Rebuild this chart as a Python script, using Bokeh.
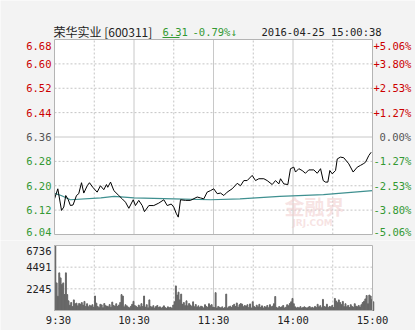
from bokeh.plotting import figure
from bokeh.models import Range1d, ColumnDataSource
from bokeh.core.properties import value
from bokeh.layouts import column
from bokeh.embed import file_html
from bokeh.resources import INLINE

# ---------------- data ----------------
title_name = "荣华实业 [600311]"
last_price = "6.31"
last_change = "-0.79%↓"
stamp = "2016-04-25 15:00:38"
prev_close = 6.36

price_ticks = [6.68, 6.60, 6.52, 6.44, 6.36, 6.28, 6.20, 6.12, 6.04]
pct_labels = ["+5.06%", "+3.80%", "+2.53%", "+1.27%", "0.00%",
              "-1.27%", "-2.53%", "-3.80%", "-5.06%"]
time_ticks = [0, 60, 120, 180, 240]
time_labels = ["9:30", "10:30", "11:30", "14:00", "15:00"]
vol_ticks = [6736, 4491, 2245]
vgrid_dashed = [30, 90, 150, 210]
vgrid_solid = [60, 120, 180]

price_min = [0, 2.5, 5.3, 7, 8.5, 10.3, 12, 14, 16.6, 18.3, 20.4, 22.1, 24.7, 26.4,
             28.9, 32.2, 34.7, 37.2, 39.2, 40.2, 42.3, 44.8, 48.5, 51.1, 53.6, 56.1,
             59.4, 61.1, 63.6, 66.2, 67.9, 71.2, 74.9, 78.7, 82.5, 85.1, 88.1, 90,
             91.8, 93.4, 95.1, 98.9, 102.6, 107.7, 110.2, 112.7, 115.2, 117.7, 120.2,
             122.8, 125.3, 127.8, 130.3, 134.1, 137.9, 140.4, 142.9, 145.4, 149.2,
             151.7, 154.2, 158, 160.5, 164.3, 166.8, 169.3, 170.6, 173.1, 176.1,
             178.1, 180.6, 181.9, 184.4, 186.9, 189.4, 191.9, 195.7, 198.3, 200.8,
             202.8, 204.5, 206.3, 207.8, 209.6, 212.1, 213.4, 215.8, 218.3, 222.1,
             225.4, 228.5, 231, 233, 234.7, 237.2, 239]
price_val = [6.157, 6.19, 6.119, 6.13, 6.168, 6.155, 6.135, 6.137, 6.168, 6.174, 6.21,
             6.176, 6.20, 6.21, 6.195, 6.179, 6.20, 6.187, 6.204, 6.195, 6.212, 6.184,
             6.168, 6.157, 6.146, 6.126, 6.154, 6.135, 6.152, 6.135, 6.115, 6.135,
             6.135, 6.143, 6.154, 6.135, 6.14, 6.13, 6.11, 6.097, 6.154, 6.152, 6.152,
             6.163, 6.16, 6.157, 6.179, 6.184, 6.19, 6.174, 6.176, 6.168, 6.179, 6.19,
             6.208, 6.20, 6.217, 6.217, 6.234, 6.217, 6.223, 6.223, 6.217, 6.204,
             6.217, 6.206, 6.223, 6.206, 6.204, 6.256, 6.261, 6.245, 6.256, 6.25,
             6.241, 6.252, 6.252, 6.241, 6.256, 6.217, 6.212, 6.212, 6.25, 6.239,
             6.25, 6.288, 6.294, 6.292, 6.272, 6.245, 6.261, 6.267, 6.272, 6.277,
             6.299, 6.31]

avg_min = [0, 5, 12, 35, 45, 60, 90, 118, 140, 170, 203, 240]
avg_val = [6.175, 6.168, 6.154, 6.16, 6.165, 6.16, 6.157, 6.154, 6.157, 6.165, 6.171, 6.184]

volume = [
    6736, 2860, 1480, 3900, 3380, 2700, 2860, 1650, 3900, 1650, 1000, 550, 830, 400, 1100, 700, 760, 480, 730, 650,
    820, 560, 940, 420, 700, 380, 550, 470, 600, 350, 1500, 760, 420, 300, 640, 580, 290, 720, 500, 450,
    380, 610, 340, 870, 520, 460, 700, 420, 560, 830, 1650, 1500, 380, 600, 480, 350, 270, 430, 640, 950,
    520, 430, 300, 560, 380, 710, 420, 1500, 350, 600, 280, 1100, 420, 330, 500, 260, 410, 520, 300, 380,
    250, 340, 480, 300, 220, 380, 290, 330, 260, 560, 900, 2550, 1600, 1900, 1100, 1700, 640, 820, 500, 1000,
    480, 720, 560, 420, 900, 380, 620, 350, 480, 300, 450, 380, 260, 600, 420, 330, 700, 500, 610, 350,
    300, 1850, 260, 420, 330, 280, 380, 210, 320, 1700, 260, 380, 450, 300, 520, 640, 410, 780, 350, 600,
    720, 650, 380, 520, 460, 600, 300, 680, 260, 900, 420, 300, 550, 380, 640, 320, 480, 260, 410, 350,
    520, 280, 600, 380, 450, 700, 1450, 320, 260, 410, 300, 380, 520, 260, 340, 600, 480, 720, 900, 1250,
    700, 380, 260, 330, 280, 400, 250, 320, 380, 300, 260, 350, 410, 280, 330, 260, 420, 300, 640, 380,
    500, 280, 1150, 420, 360, 650, 300, 420, 380, 520, 300, 1250, 980, 800, 1100, 820, 600, 940, 400, 700,
    380, 520, 300, 600, 420, 340, 700, 450, 380, 520, 360, 600, 820, 960, 1200, 1550, 700, 1600, 1500, 1150,
    900]

# ---------------- layout constants (pixels) ----------------
W = 415
BG = "#f3f3f3"
RED = "#cc0000"
GREEN = "#339933"
GRAY = "#555555"
GRID = "#c4c4c4"
SOLID = "#c8c8c8"
FRAME = "#b4b4b4"
MONO = "DejaVu Sans Mono"
CJK = "Noto Sans CJK SC"
FS = "10.5px"
PLOT_L, PLOT_R = 54, 372           # plot box in page pixels
P_TOP, P_BOT, P_H = 39, 234, 240   # price box within first figure
V_TOP, V_BOT, V_H = 5, 70, 90      # volume box within second figure

T0, T1 = time_ticks[0], time_ticks[-1]
kx = (PLOT_R - PLOT_L) / (T1 - T0)
x_range_all = (T0 - PLOT_L / kx, T1 + (W - PLOT_R) / kx)
vol_minutes = [T0 + i + 0.6 for i in range(len(volume))]


def make_fig(height, top_px, bot_px, lo, hi):
    ky = (bot_px - top_px) / (hi - lo)
    yr = Range1d(lo - (height - bot_px) / ky, hi + top_px / ky)
    f = figure(width=W, height=height, output_backend="svg", toolbar_location=None,
               x_range=Range1d(*x_range_all), y_range=yr,
               min_border=0, min_border_left=0, min_border_right=0,
               min_border_top=0, min_border_bottom=0)
    f.axis.visible = False
    f.grid.visible = False
    f.outline_line_color = None
    f.background_fill_color = BG
    f.border_fill_color = BG
    # white plotting box
    f.quad(left=[T0], right=[T1], bottom=[lo], top=[hi], fill_color="white", line_color=None)
    # vertical grid
    f.segment(x0=vgrid_dashed, x1=vgrid_dashed, y0=[lo] * len(vgrid_dashed),
              y1=[hi] * len(vgrid_dashed), line_color=GRID, line_dash="2 2", line_width=1)
    f.segment(x0=vgrid_solid, x1=vgrid_solid, y0=[lo] * len(vgrid_solid),
              y1=[hi] * len(vgrid_solid), line_color=SOLID, line_width=1)
    return f, ky


def frame_box(f, lo, hi):
    f.quad(left=[T0], right=[T1], bottom=[lo], top=[hi], fill_color=None,
           line_color=FRAME, line_width=1)


# ---------------- price panel ----------------
plo, phi = price_ticks[-1], price_ticks[0]
p, pky = make_fig(P_H, P_TOP, P_BOT, plo, phi)

inner = price_ticks[1:-1]
dashed_h = [t for t in inner if t != prev_close]
p.segment(x0=[T0] * len(dashed_h), x1=[T1] * len(dashed_h), y0=dashed_h, y1=dashed_h,
          line_color=GRID, line_dash="2 2", line_width=1)
p.segment(x0=[T0], x1=[T1], y0=[prev_close], y1=[prev_close], line_color=SOLID, line_width=1)

# watermark
p.text(x=[T0 + (284 - PLOT_L) / kx], y=[6.085], text=["金融界"], text_font=value(CJK),
       text_font_size="20px", text_font_style="bold", text_color="#f0cccc",
       text_alpha=0.55, text_baseline="bottom")
p.text(x=[T0 + (292 - PLOT_L) / kx], y=[6.062], text=["JRJ.COM"], text_font=value("DejaVu Sans"),
       text_font_size="9px", text_font_style="bold", text_color="#f0cccc",
       text_alpha=0.55, text_baseline="bottom")

p.line(avg_min, avg_val, line_color="#3f9090", line_width=1.2)
p.line(price_min, price_val, line_color="black", line_width=1)
frame_box(p, plo, phi)

cols = [RED if t > prev_close + 1e-9 else (GREEN if t < prev_close - 1e-9 else GRAY)
        for t in price_ticks]
yoff = [6 if i == 0 else (-3 if i == len(price_ticks) - 1 else 0)
        for i in range(len(price_ticks))]
left_src = ColumnDataSource(dict(x=[T0] * len(price_ticks), y=price_ticks,
                                 text=["%.2f" % t for t in price_ticks], c=cols, yo=yoff))
p.text(x="x", y="y", text="text", text_color="c", y_offset="yo", x_offset=-3,
       source=left_src, text_align="right", text_baseline="middle",
       text_font=value(MONO), text_font_size=FS)
right_src = ColumnDataSource(dict(x=[T1] * len(price_ticks), y=price_ticks, text=pct_labels,
                                  c=cols, yo=yoff,
                                  xo=[1 if s[0] in "+-" else 7 for s in pct_labels]))
p.text(x="x", y="y", text="text", text_color="c", y_offset="yo", x_offset="xo",
       source=right_src, text_align="left", text_baseline="middle",
       text_font=value(MONO), text_font_size=FS)

# header line
hdr_x = [T0 + (xp - PLOT_L) / kx for xp in (53, 162, 192, 261)]
p.text(x=[hdr_x[0]], y=[phi], text=[title_name], y_offset=-8, text_baseline="middle",
       text_font=value(CJK), text_font_size="12px", text_color="#222222")
p.text(x=hdr_x[1:], y=[phi] * 3, text=[last_price, last_change, stamp], y_offset=-8,
       text_baseline="middle", text_font=value(MONO), text_font_size=FS,
       text_color=[GREEN, GREEN, "#222222"])
# underline under the last price
ul_y = phi + 2 / pky
p.segment(x0=[hdr_x[1]], x1=[hdr_x[1] + 17 / kx], y0=[ul_y], y1=[ul_y],
          line_color=GREEN, line_width=1)

# ---------------- volume panel ----------------
vlo, vhi = 0, vol_ticks[0]
v, vky = make_fig(V_H, V_TOP, V_BOT, vlo, vhi)
inner_v = vol_ticks[1:]
v.segment(x0=[T0] * len(inner_v), x1=[T1] * len(inner_v), y0=inner_v, y1=inner_v,
          line_color=GRID, line_dash="2 2", line_width=1)
v.vbar(x=vol_minutes, top=volume, width=0.7, color="#666666")
frame_box(v, vlo, vhi)

vsrc = ColumnDataSource(dict(x=[T0] * len(vol_ticks), y=vol_ticks,
                             text=[str(t) for t in vol_ticks],
                             yo=[5 if i == 0 else 0 for i in range(len(vol_ticks))]))
v.text(x="x", y="y", text="text", y_offset="yo", x_offset=-3, source=vsrc,
       text_align="right", text_baseline="middle", text_font=value(MONO),
       text_font_size=FS, text_color="#222222")
tsrc = ColumnDataSource(dict(x=time_ticks, y=[vlo] * len(time_ticks), text=time_labels,
                             xo=[4 if i == 0 else 0 for i in range(len(time_ticks))]))
v.text(x="x", y="y", text="text", y_offset=9, x_offset="xo", source=tsrc,
       text_align="center", text_baseline="middle", text_font=value(MONO),
       text_font_size=FS, text_color="#222222")

layout = column(p, v, spacing=0)
open("out.html", "w").write(file_html(layout, INLINE))
